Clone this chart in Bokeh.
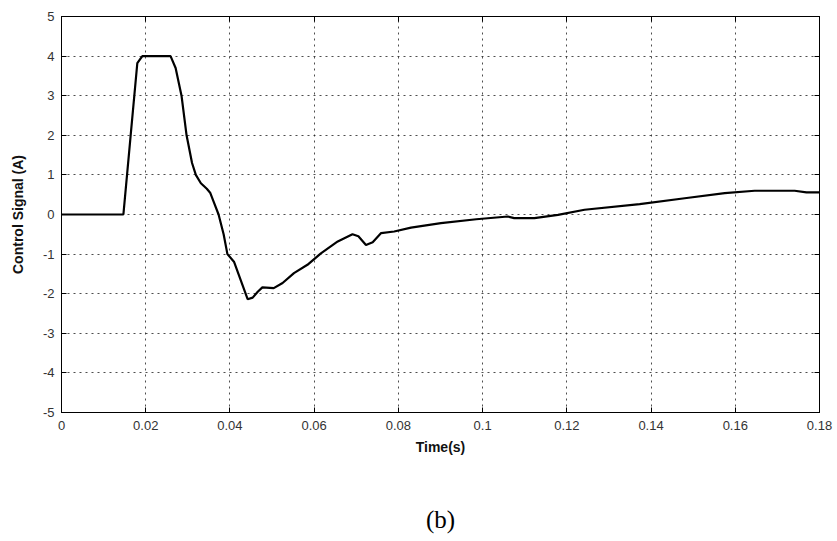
from bokeh.plotting import figure
from bokeh.models import FixedTicker, LinearAxis, Range1d
from bokeh.embed import file_html
from bokeh.resources import INLINE

# Data
time_s = [0.0, 0.0147, 0.0164, 0.0180, 0.0192, 0.0259, 0.0271, 0.0285, 0.0297,
          0.0310, 0.0319, 0.0331, 0.0345, 0.0353, 0.0361, 0.0373, 0.0385, 0.0394,
          0.0410, 0.0442, 0.0454, 0.0466, 0.0477, 0.0504, 0.0525, 0.0552, 0.0584,
          0.0616, 0.0656, 0.0691, 0.0705, 0.0723, 0.0739, 0.0759, 0.0790, 0.0830,
          0.0901, 0.0985, 0.1060, 0.1075, 0.1123, 0.1179, 0.1242, 0.1373, 0.1480,
          0.1575, 0.1646, 0.1741, 0.1769, 0.1800]
control_a = [0.0, 0.0, 1.97, 3.82, 4.0, 4.0, 3.7, 3.0, 2.0,
             1.3, 1.0, 0.79, 0.65, 0.55, 0.33, 0.0, -0.5, -1.0,
             -1.2, -2.14, -2.1, -1.95, -1.84, -1.86, -1.73, -1.48, -1.27,
             -0.98, -0.68, -0.50, -0.55, -0.77, -0.70, -0.47, -0.43, -0.33,
             -0.22, -0.12, -0.05, -0.09, -0.09, -0.01, 0.12, 0.26, 0.41,
             0.54, 0.60, 0.60, 0.56, 0.56]

x_ticks = [0.0, 0.02, 0.04, 0.06, 0.08, 0.1, 0.12, 0.14, 0.16, 0.18]
x_tick_labels = ["0", "0.02", "0.04", "0.06", "0.08", "0.1", "0.12", "0.14", "0.16", "0.18"]
y_ticks = [-5, -4, -3, -2, -1, 0, 1, 2, 3, 4, 5]
y_tick_labels = ["-5", "-4", "-3", "-2", "-1", "0", "1", "2", "3", "4", "5"]
caption = "(b)"

p = figure(width=837, height=541, output_backend="svg", toolbar_location=None,
           x_range=Range1d(0, 0.18), y_range=Range1d(-5, 5),
           min_border_left=61, min_border_right=18, min_border_top=16, min_border_bottom=129,
           background_fill_color="white", border_fill_color="white")
p.outline_line_color = "black"
p.outline_line_width = 1

tick_font = "Liberation Sans"
for ax in (p.xaxis[0], p.yaxis[0]):
    ax.axis_line_color = "black"
    ax.major_tick_in = 5
    ax.major_tick_out = 0
    ax.minor_tick_line_color = None
    ax.major_tick_line_color = "black"
    ax.major_label_text_font = tick_font
    ax.major_label_text_font_size = "13px"
    ax.major_label_text_color = "#333333"
    ax.axis_label_text_font = "Liberation Sans"
    ax.axis_label_text_font_style = "bold"
    ax.axis_label_text_font_size = "14px"
    ax.axis_label_text_color = "#111111"

p.xaxis[0].ticker = FixedTicker(ticks=x_ticks)
p.xaxis[0].major_label_overrides = {t: l for t, l in zip(x_ticks, x_tick_labels)}
p.xaxis[0].axis_label = "Time(s)"
p.xaxis[0].major_label_standoff = 8
p.xaxis[0].axis_label_standoff = 6
p.yaxis[0].ticker = FixedTicker(ticks=y_ticks)
p.yaxis[0].major_label_overrides = {t: l for t, l in zip(y_ticks, y_tick_labels)}
p.yaxis[0].axis_label = "Control Signal (A)"
p.yaxis[0].major_label_standoff = 7
p.yaxis[0].axis_label_standoff = 14

# mirrored tick marks on top and right (MATLAB box style), without labels
for loc, ticks in (("right", y_ticks), ("above", x_ticks)):
    ax = LinearAxis(ticker=FixedTicker(ticks=ticks))
    ax.major_tick_in = 5
    ax.major_tick_out = 0
    ax.minor_tick_line_color = None
    ax.major_label_overrides = {t: "" for t in ticks}
    ax.major_label_standoff = 0
    ax.major_label_text_font_size = "8px"
    ax.axis_line_color = "black"
    p.add_layout(ax, loc)

# figure caption below the axis
cap_axis = LinearAxis(ticker=FixedTicker(ticks=[]), axis_label=caption)
cap_axis.axis_line_color = None
cap_axis.major_tick_line_color = None
cap_axis.minor_tick_line_color = None
cap_axis.major_tick_in = 0
cap_axis.major_tick_out = 0
cap_axis.major_label_standoff = 0
cap_axis.axis_label_standoff = 48
cap_axis.axis_label_text_font = "Liberation Serif"
cap_axis.axis_label_text_font_size = "25px"
cap_axis.axis_label_text_font_style = "normal"
cap_axis.axis_label_text_color = "black"
p.add_layout(cap_axis, "below")

p.xgrid.ticker = FixedTicker(ticks=x_ticks)
p.ygrid.ticker = FixedTicker(ticks=y_ticks)
for g in (p.xgrid[0], p.ygrid[0]):
    g.grid_line_color = "#222222"
    g.grid_line_dash = "2 4"
    g.grid_line_width = 1
    g.grid_line_alpha = 0.8

p.line(time_s, control_a, line_color="black", line_width=2.2)

open("out.html", "w").write(file_html(p, INLINE))
